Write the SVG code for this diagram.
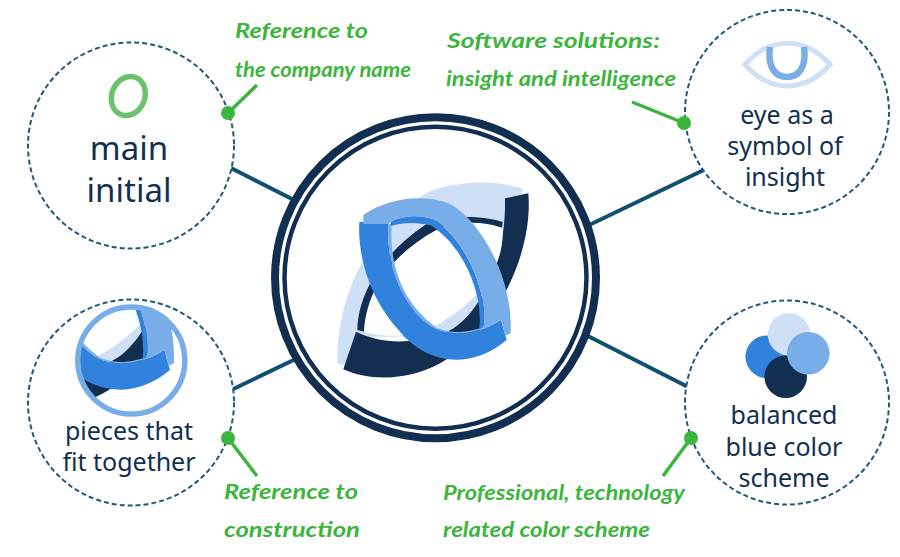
<svg xmlns="http://www.w3.org/2000/svg" xmlns:xlink="http://www.w3.org/1999/xlink" width="900" height="557" viewBox="0 0 900 557">
<style>
.dash{fill:#fff;stroke:#1f5a7a;stroke-width:2;stroke-dasharray:5 3}
.conn{stroke:#0f4f70;stroke-width:4;fill:none}
.lead{stroke:#3cb53c;stroke-width:3.5;fill:none}
.dot{fill:#3cb53c}
.lab{font-family:"Noto Sans","Open Sans",sans-serif;fill:#122f52;text-anchor:middle;font-size:25px}
.big{font-size:33px}
.note{font-family:"Lato","Noto Sans",sans-serif;font-style:italic;font-weight:700;fill:#3cb53c;font-size:21px}
</style>
<defs>
<g id="mark" transform="translate(320 160) scale(.33333)">
<path fill="#cfe0f6" d="M52,610 C50,450 110,300 200,205 C230,175 270,130 310,105 C360,70 520,50 610,88 L605,100 L560,300 L470,470 L350,530 L110,530 L80,620 Z"/>
<path fill="#122f52" d="M555,115 L625,100 C640,280 530,500 385,595 C280,665 150,665 70,628 L108,515 C170,545 265,560 350,520 L380,515 C450,490 560,340 555,115 Z"/>
<path fill="#fff" d="M115,510 C170,530 250,540 345,498 C430,450 480,400 510,350 C540,300 552,250 547,195 C480,170 400,170 340,205 C240,260 150,340 115,510 Z"/>
<path fill="#122f52" d="M548,186 L546,203 C480,180 400,185 345,212 C240,270 140,370 132,515 L112,510 C115,380 210,265 315,195 C380,165 480,165 548,186 Z"/>
<path fill="#3182dc" d="M118,185 C112,290 150,420 240,515 C310,600 440,640 560,540 L543,480 C470,525 400,530 345,505 C270,465 195,340 205,190 Z"/>
<path fill="#78ade8" d="M205,190 C195,340 270,465 345,505 C400,530 470,525 543,480 L480,505 C430,520 395,520 350,503 C290,460 205,370 215,195 Z"/>
<path fill="#3182dc" d="M212,185 C240,172 290,160 340,178 C440,240 505,400 490,503 L478,505 C490,400 430,260 335,197 C290,185 250,187 212,198 Z"/>
<path fill="#78ade8" d="M130,165 C200,115 310,100 385,130 C470,170 580,340 572,520 L557,527 L543,480 L490,503 C505,400 440,240 340,178 C290,160 240,172 212,185 L205,192 L130,192 Z"/>
</g>
<clipPath id="miniClip"><circle cx="131.3" cy="360.5" r="54"/></clipPath>
</defs>
<g id="connectors">
<path class="conn" d="M225,165L300,203"/>
<path class="conn" d="M225,393L302,356"/>
<path class="conn" d="M585,227L710,167"/>
<path class="conn" d="M582,333L692,389"/>
</g>
<g id="center">
<circle cx="435.500" cy="277.800" r="160.500" fill="#fff" stroke="#122f52" stroke-width="8"/>
<circle cx="435.500" cy="277.800" r="151" fill="none" stroke="#122f52" stroke-width="4.500"/>
<use href="#mark"/>
</g>
<g id="node-initial">
<circle class="dash" cx="131" cy="145.500" r="103"/>
<ellipse cx="128.300" cy="96" rx="16.500" ry="20" fill="none" stroke="#6cc26c" stroke-width="5.500" transform="rotate(22 128.300 96)"/>
<text class="lab big" x="129" y="160">main</text>
<text class="lab big" x="129" y="202">initial</text>
</g>
<g id="node-eye">
<circle class="dash" cx="787" cy="112" r="102"/>
<path d="M745,64.500 C770,36 805,36 830,64.500 C805,93 770,93 745,64.500 Z" fill="none" stroke="#cfe0f6" stroke-width="5"/>
<path d="M770,47 C767,68 776,77 787,77 C798,77 807,68 804,47" fill="none" stroke="#78ade8" stroke-width="6.500"/>
<text class="lab" x="787" y="124">eye as a</text>
<text class="lab" x="785" y="155">symbol of</text>
<text class="lab" x="785" y="186">insight</text>
</g>
<g id="node-pieces">
<circle class="dash" cx="131" cy="402.500" r="103"/>
<g clip-path="url(#miniClip)"><use href="#mark" transform="translate(-336.700 30)"/></g>
<circle cx="131.300" cy="360.500" r="53.500" fill="none" stroke="#78ade8" stroke-width="5.500"/>
<text class="lab" x="129" y="440">pieces that</text>
<text class="lab" x="129" y="471">fit together</text>
</g>
<g id="node-colors">
<circle class="dash" cx="787" cy="402.500" r="102"/>
<circle cx="766.700" cy="356.700" r="21.300" fill="#3182dc"/>
<circle cx="789" cy="334.300" r="21.300" fill="#cfe0f6"/>
<circle cx="785.700" cy="376.700" r="21.300" fill="#122f52"/>
<circle cx="808.300" cy="353.300" r="21.300" fill="#78ade8"/>
<text class="lab" x="784" y="424">balanced</text>
<text class="lab" x="784" y="456">blue color</text>
<text class="lab" x="784" y="487">scheme</text>
</g>
<g id="note-name">
<path class="lead" d="M228,113L257,85"/><circle class="dot" cx="228" cy="113" r="7"/>
<text class="note" x="235" y="38" textLength="133" lengthAdjust="spacingAndGlyphs">Reference to</text>
<text class="note" x="235" y="77" textLength="176" lengthAdjust="spacingAndGlyphs">the company name</text>
</g>
<g id="note-software">
<path class="lead" d="M684,123L632,102"/><circle class="dot" cx="684" cy="123" r="7"/>
<text class="note" x="447" y="48" textLength="213" lengthAdjust="spacingAndGlyphs">Software solutions:</text>
<text class="note" x="446" y="86" textLength="230" lengthAdjust="spacingAndGlyphs">insight and intelligence</text>
</g>
<g id="note-construction">
<path class="lead" d="M228,438L257,476"/><circle class="dot" cx="228" cy="438" r="7"/>
<text class="note" x="224" y="499" textLength="134" lengthAdjust="spacingAndGlyphs">Reference to</text>
<text class="note" x="224" y="537" textLength="136" lengthAdjust="spacingAndGlyphs">construction</text>
</g>
<g id="note-scheme">
<path class="lead" d="M691,438L663,476"/><circle class="dot" cx="691" cy="438" r="7"/>
<text class="note" x="443" y="500" textLength="242" lengthAdjust="spacingAndGlyphs">Professional, technology</text>
<text class="note" x="443" y="537" textLength="207" lengthAdjust="spacingAndGlyphs">related color scheme</text>
</g>
</svg>
